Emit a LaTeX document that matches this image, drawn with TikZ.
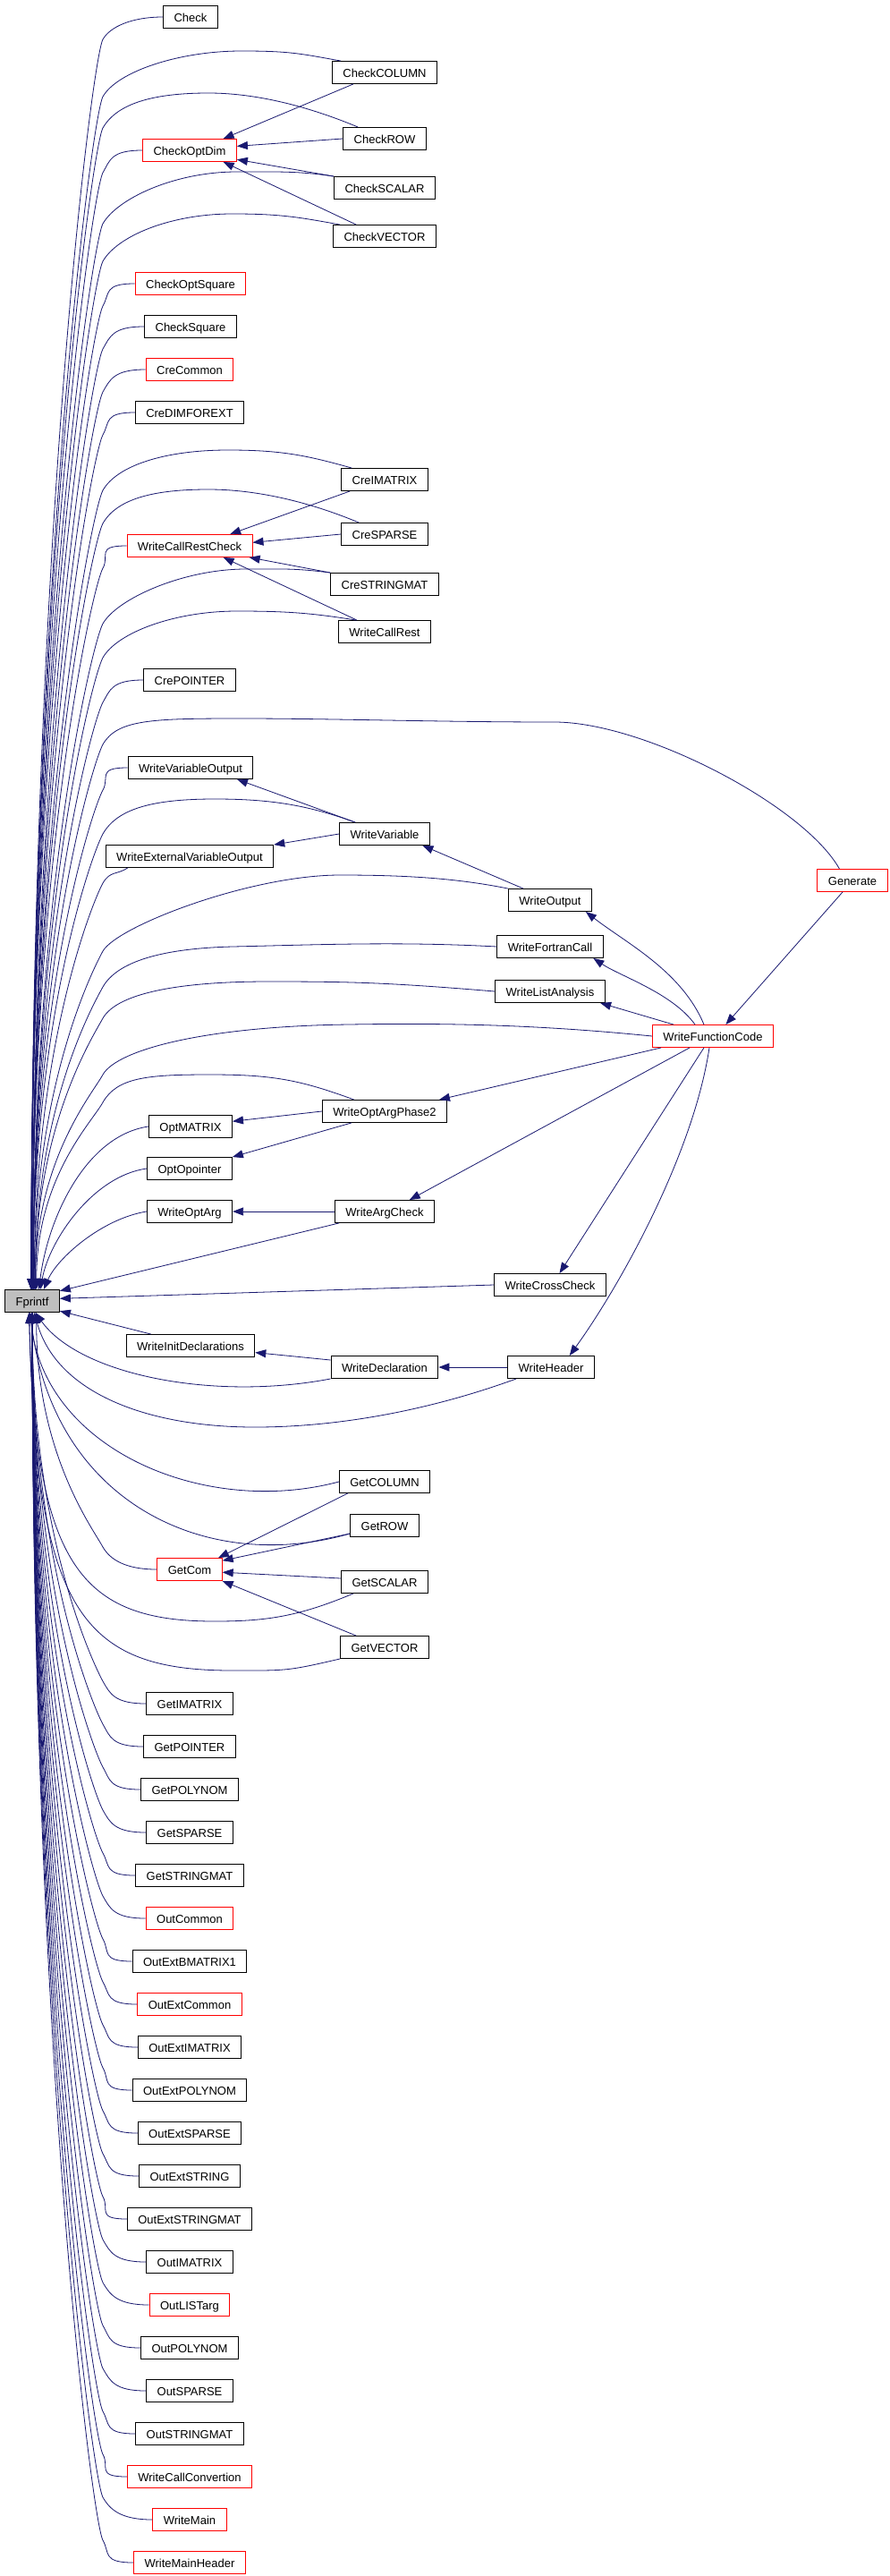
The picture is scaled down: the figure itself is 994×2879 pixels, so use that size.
\documentclass[tikz,border=0pt]{standalone}
\usepackage{fontspec}
\setmainfont{Liberation Sans}
\usetikzlibrary{arrows.meta}
\definecolor{edgeblue}{HTML}{191970}
\definecolor{boxred}{HTML}{FF0000}
\definecolor{boxgray}{HTML}{BFBFBF}
\begin{document}
\begin{tikzpicture}[x=1pt,y=-1pt,
  fn/.style={shape=rectangle,draw=black,line width=0.9pt,minimum height=25pt,inner xsep=12pt,inner ysep=0pt,text height=12pt,text depth=1pt,font=\fontsize{13}{15}\selectfont},
  fnred/.style={fn,draw=boxred},
  fnself/.style={fn,fill=boxgray},
  call/.style={draw=edgeblue,line width=0.8pt,-{Triangle[length=12pt,width=9pt]}}]
\useasboundingbox (0,0) rectangle (994,2879);
\fill[white] (0,0) rectangle (994,2879);
\draw (36,1454) node (fprintf) [fnself] {Fprintf};
\draw (213,19) node (check) [fn] {Check};
\draw (430,81) node (chkcolumn) [fn] {CheckCOLUMN};
\draw (430,155) node (chkrow) [fn] {CheckROW};
\draw (212,168) node (chkoptdim) [fnred] {CheckOptDim};
\draw (430,210) node (chkscalar) [fn] {CheckSCALAR};
\draw (430,264) node (chkvector) [fn] {CheckVECTOR};
\draw (213,317) node (chkoptsquare) [fnred] {CheckOptSquare};
\draw (213,365) node (chksquare) [fn] {CheckSquare};
\draw (212,413) node (crecommon) [fnred] {CreCommon};
\draw (212,461) node (credimforext) [fn] {CreDIMFOREXT};
\draw (430,536) node (creimatrix) [fn] {CreIMATRIX};
\draw (430,597) node (cresparse) [fn] {CreSPARSE};
\draw (212,610) node (wcallrestchk) [fnred] {WriteCallRestCheck};
\draw (430,653) node (crestringmat) [fn] {CreSTRINGMAT};
\draw (430,706) node (wcallrest) [fn] {WriteCallRest};
\draw (212,760) node (crepointer) [fn] {CrePOINTER};
\draw (213,858) node (wvaroutput) [fn] {WriteVariableOutput};
\draw (430,932) node (wvariable) [fn] {WriteVariable};
\draw (212,957) node (wextvaroutput) [fn] {WriteExternalVariableOutput};
\draw (953,984) node (generate) [fnred] {Generate};
\draw (615,1006) node (woutput) [fn] {WriteOutput};
\draw (615,1058) node (wfortrancall) [fn] {WriteFortranCall};
\draw (615,1108) node (wlistanalysis) [fn] {WriteListAnalysis};
\draw (797,1158) node (wfunctioncode) [fnred] {WriteFunctionCode};
\draw (430,1242) node (woptargphase2) [fn] {WriteOptArgPhase2};
\draw (213,1259) node (optmatrix) [fn] {OptMATRIX};
\draw (212,1306) node (optopointer) [fn] {OptOpointer};
\draw (212,1354) node (woptarg) [fn] {WriteOptArg};
\draw (430,1354) node (wargcheck) [fn] {WriteArgCheck};
\draw (615,1436) node (wcrosscheck) [fn] {WriteCrossCheck};
\draw (213,1504) node (winitdecl) [fn] {WriteInitDeclarations};
\draw (430,1528) node (wdeclaration) [fn] {WriteDeclaration};
\draw (616,1528) node (wheader) [fn] {WriteHeader};
\draw (430,1656) node (getcolumn) [fn] {GetCOLUMN};
\draw (430,1705) node (getrow) [fn] {GetROW};
\draw (212,1754) node (getcom) [fnred] {GetCom};
\draw (430,1768) node (getscalar) [fn] {GetSCALAR};
\draw (430,1841) node (getvector) [fn] {GetVECTOR};
\draw (212,1904) node (getimatrix) [fn] {GetIMATRIX};
\draw (212,1952) node (getpointer) [fn] {GetPOINTER};
\draw (212,2000) node (getpolynom) [fn] {GetPOLYNOM};
\draw (212,2048) node (getsparse) [fn] {GetSPARSE};
\draw (212,2096) node (getstringmat) [fn] {GetSTRINGMAT};
\draw (212,2144) node (outcommon) [fnred] {OutCommon};
\draw (212,2192) node (outextbmatrix1) [fn] {OutExtBMATRIX1};
\draw (212,2240) node (outextcommon) [fnred] {OutExtCommon};
\draw (212,2288) node (outextimatrix) [fn] {OutExtIMATRIX};
\draw (212,2336) node (outextpolynom) [fn] {OutExtPOLYNOM};
\draw (212,2384) node (outextsparse) [fn] {OutExtSPARSE};
\draw (212,2432) node (outextstring) [fn] {OutExtSTRING};
\draw (212,2480) node (outextstringmat) [fn] {OutExtSTRINGMAT};
\draw (212,2528) node (outimatrix) [fn] {OutIMATRIX};
\draw (212,2576) node (outlistarg) [fnred] {OutLISTarg};
\draw (212,2624) node (outpolynom) [fn] {OutPOLYNOM};
\draw (212,2672) node (outsparse) [fn] {OutSPARSE};
\draw (212,2720) node (outstringmat) [fn] {OutSTRINGMAT};
\draw (212,2768) node (wcallconvertion) [fnred] {WriteCallConvertion};
\draw (212,2816) node (wmain) [fnred] {WriteMain};
\draw (212,2864) node (wmainheader) [fnred] {WriteMainHeader};
\draw[call] (check.west) .. controls +(-35,0) and +(8,-14) .. (115,44) .. controls +(-12,22) and +(0,-838) .. (fprintf.95);
\draw[call] ([xshift=10pt]chkcolumn.north west) .. controls +(-45,-8) and +(55,0) .. (270,57) .. controls +(-70,0) and +(16,-28) .. (115,108) .. controls +(-12,22) and +(0,-800) .. (fprintf.95);
\draw[call] ([xshift=17pt]chkrow.north west) .. controls +(-60,-25) and +(50,0) .. (233,104) .. controls +(-60,0) and +(16,-28) .. (115,143) .. controls +(-12,22) and +(0,-779) .. (fprintf.95);
\draw[call] (chkoptdim.west) .. controls +(-35,0) and +(8,-14) .. (115,193) .. controls +(-12,22) and +(0,-749) .. (fprintf.95);
\draw[call] (chkscalar.north west) .. controls +(-40,-6) and +(45,0) .. (265,192) .. controls +(-70,0) and +(16,-28) .. (115,250) .. controls +(-12,22) and +(0,-715) .. (fprintf.95);
\draw[call] ([xshift=8pt]chkvector.north west) .. controls +(-45,-8) and +(55,0) .. (260,239) .. controls +(-70,0) and +(16,-28) .. (115,292) .. controls +(-12,22) and +(0,-689) .. (fprintf.95);
\draw[call] (chkoptsquare.west) .. controls +(-35,0) and +(8,-14) .. (115,342) .. controls +(-12,22) and +(0,-659) .. (fprintf.95);
\draw[call] (chksquare.west) .. controls +(-35,0) and +(8,-14) .. (115,390) .. controls +(-12,22) and +(0,-631) .. (fprintf.90);
\draw[call] (crecommon.west) .. controls +(-35,0) and +(8,-14) .. (115,438) .. controls +(-12,22) and +(0,-602) .. (fprintf.90);
\draw[call] (credimforext.west) .. controls +(-35,0) and +(8,-14) .. (115,486) .. controls +(-12,22) and +(0,-573) .. (fprintf.90);
\draw[call] ([xshift=12pt]creimatrix.north west) .. controls +(-50,-14) and +(60,0) .. (255,503) .. controls +(-70,0) and +(16,-28) .. (115,548) .. controls +(-12,22) and +(0,-536) .. (fprintf.90);
\draw[call] ([xshift=20pt]cresparse.north west) .. controls +(-60,-25) and +(50,0) .. (233,547) .. controls +(-60,0) and +(16,-28) .. (115,585) .. controls +(-12,22) and +(0,-514) .. (fprintf.90);
\draw[call] (wcallrestchk.west) .. controls +(-35,0) and +(8,-14) .. (115,635) .. controls +(-12,22) and +(0,-484) .. (fprintf.90);
\draw[call] (crestringmat.north west) .. controls +(-40,-5) and +(45,0) .. (275,636) .. controls +(-70,0) and +(16,-28) .. (115,697) .. controls +(-12,22) and +(0,-446) .. (fprintf.85);
\draw[call] ([xshift=20pt]wcallrest.north west) .. controls +(-50,-8) and +(55,0) .. (265,683) .. controls +(-70,0) and +(16,-28) .. (115,735) .. controls +(-12,22) and +(0,-424) .. (fprintf.85);
\draw[call] (crepointer.west) .. controls +(-35,0) and +(8,-14) .. (115,785) .. controls +(-12,22) and +(0,-394) .. (fprintf.85);
\draw[call] ([xshift=25pt]generate.north west) .. controls +(-40,-71) and +(100,0) .. (620,807) .. controls +(-130,0) and +(100,0) .. (270,803) .. controls +(-100,0) and +(16,-28) .. (115,832) .. controls +(-12,22) and +(0,-365) .. (fprintf.85);
\draw[call] (wvaroutput.west) .. controls +(-35,0) and +(8,-14) .. (115,883) .. controls +(-12,22) and +(0,-335) .. (fprintf.85);
\draw[call] ([xshift=18pt]wvariable.north west) .. controls +(-55,-20) and +(60,0) .. (240,893) .. controls +(-70,0) and +(16,-28) .. (115,932) .. controls +(-12,22) and +(0,-305) .. (fprintf.85);
\draw[call] ([xshift=25pt]wextvaroutput.south west) .. controls +(-12,8) and +(8,-14) .. (115,987) .. controls +(-12,22) and +(0,-272) .. (fprintf.80);
\draw[call] (woutput.north west) .. controls +(-60,-12) and +(70,0) .. (380,978) .. controls +(-100,0) and +(16,-28) .. (115,1063) .. controls +(-12,22) and +(0,-227) .. (fprintf.80);
\draw[call] (wfortrancall.west) .. controls +(-110,-6) and +(90,-2) .. (260,1058) .. controls +(-80,2) and +(16,-28) .. (115,1103) .. controls +(-12,22) and +(0,-203) .. (fprintf.75);
\draw[call] (wlistanalysis.west) .. controls +(-120,-10) and +(90,0) .. (300,1097) .. controls +(-100,0) and +(16,-28) .. (115,1138) .. controls +(-12,22) and +(0,-182) .. (fprintf.75);
\draw[call] (wfunctioncode.west) .. controls +(-120,-12) and +(120,-2) .. (390,1145) .. controls +(-160,2) and +(16,-28) .. (115,1201) .. controls +(-12,22) and +(0,-144) .. (fprintf.75);
\draw[call] ([xshift=36pt]woptargphase2.north west) .. controls +(-60,-22) and +(70,0) .. (235,1201) .. controls +(-70,0) and +(16,-28) .. (115,1232) .. controls +(-12,22) and +(0,-125) .. (fprintf.70);
\draw[call] (optmatrix.west) .. controls +(-70,10) and +(10,-80) .. (fprintf.60);
\draw[call] (optopointer.west) .. controls +(-60,8) and +(10,-55) .. (fprintf.55);
\draw[call] (woptarg.west) .. controls +(-50,8) and +(15,-35) .. (fprintf.45);
\draw[call] ([xshift=5pt]wargcheck.south west) -- (fprintf.20);
\draw[call] (wcrosscheck.west) -- (fprintf.5);
\draw[call] ([xshift=28pt]winitdecl.north west) -- (fprintf.-20);
\draw[call] (wdeclaration.south west) .. controls +(-130,25) and +(50,70) .. (fprintf.-75);
\draw[call] ([xshift=10pt]wheader.south west) .. controls +(-110,40) and +(80,0) .. (285,1595) .. controls +(-120,0) and +(25,90) .. (fprintf.-80);
\draw[call] (getcolumn.west) .. controls +(-150,40) and +(15,153) .. (fprintf.-100);
\draw[call] ([yshift=-9pt]getrow.west) .. controls +(-160,46) and +(25,213) .. (fprintf.-100);
\draw[call] (getcom.west) .. controls +(-35,0) and +(8,14) .. (115,1729) .. controls +(-12,-22) and +(0,157) .. (fprintf.-70);
\draw[call] ([xshift=14pt]getscalar.south west) .. controls +(-60,25) and +(60,0) .. (240,1812) .. controls +(-150,0) and +(7,283) .. (fprintf.-105);
\draw[call] (getvector.south west) .. controls +(-60,14) and +(60,0) .. (260,1867) .. controls +(-170,0) and +(8,333) .. (fprintf.-105);
\draw[call] (getimatrix.west) .. controls +(-35,0) and +(8,14) .. (115,1879) .. controls +(-12,-22) and +(0,247) .. (fprintf.-90);
\draw[call] (getpointer.west) .. controls +(-35,0) and +(8,14) .. (115,1927) .. controls +(-12,-22) and +(0,276) .. (fprintf.-90);
\draw[call] (getpolynom.west) .. controls +(-35,0) and +(8,14) .. (115,1975) .. controls +(-12,-22) and +(0,305) .. (fprintf.-90);
\draw[call] (getsparse.west) .. controls +(-35,0) and +(8,14) .. (115,2023) .. controls +(-12,-22) and +(0,334) .. (fprintf.-90);
\draw[call] (getstringmat.west) .. controls +(-35,0) and +(8,14) .. (115,2071) .. controls +(-12,-22) and +(0,362) .. (fprintf.-90);
\draw[call] (outcommon.west) .. controls +(-35,0) and +(8,14) .. (115,2119) .. controls +(-12,-22) and +(0,391) .. (fprintf.-90);
\draw[call] (outextbmatrix1.west) .. controls +(-35,0) and +(8,14) .. (115,2167) .. controls +(-12,-22) and +(0,420) .. (fprintf.-90);
\draw[call] (outextcommon.west) .. controls +(-35,0) and +(8,14) .. (115,2215) .. controls +(-12,-22) and +(0,449) .. (fprintf.-90);
\draw[call] (outextimatrix.west) .. controls +(-35,0) and +(8,14) .. (115,2263) .. controls +(-12,-22) and +(0,478) .. (fprintf.-90);
\draw[call] (outextpolynom.west) .. controls +(-35,0) and +(8,14) .. (115,2311) .. controls +(-12,-22) and +(0,506) .. (fprintf.-90);
\draw[call] (outextsparse.west) .. controls +(-35,0) and +(8,14) .. (115,2359) .. controls +(-12,-22) and +(0,535) .. (fprintf.-90);
\draw[call] (outextstring.west) .. controls +(-35,0) and +(8,14) .. (115,2407) .. controls +(-12,-22) and +(0,564) .. (fprintf.-90);
\draw[call] (outextstringmat.west) .. controls +(-35,0) and +(8,14) .. (115,2455) .. controls +(-12,-22) and +(0,593) .. (fprintf.-90);
\draw[call] (outimatrix.west) .. controls +(-35,0) and +(8,14) .. (115,2503) .. controls +(-12,-22) and +(0,622) .. (fprintf.-90);
\draw[call] (outlistarg.west) .. controls +(-35,0) and +(8,14) .. (115,2551) .. controls +(-12,-22) and +(0,650) .. (fprintf.-90);
\draw[call] (outpolynom.west) .. controls +(-35,0) and +(8,14) .. (115,2599) .. controls +(-12,-22) and +(0,679) .. (fprintf.-90);
\draw[call] (outsparse.west) .. controls +(-35,0) and +(8,14) .. (115,2647) .. controls +(-12,-22) and +(0,708) .. (fprintf.-90);
\draw[call] (outstringmat.west) .. controls +(-35,0) and +(8,14) .. (115,2695) .. controls +(-12,-22) and +(0,737) .. (fprintf.-90);
\draw[call] (wcallconvertion.west) .. controls +(-35,0) and +(8,14) .. (115,2743) .. controls +(-12,-22) and +(0,766) .. (fprintf.-90);
\draw[call] (wmain.west) .. controls +(-35,0) and +(8,14) .. (115,2791) .. controls +(-12,-22) and +(0,794) .. (fprintf.-90);
\draw[call] (wmainheader.west) .. controls +(-35,0) and +(8,14) .. (115,2839) .. controls +(-12,-22) and +(0,823) .. (fprintf.-90);
\draw[call] ([xshift=24pt]chkcolumn.south west) -- (chkoptdim.19);
\draw[call] (chkrow.west) -- (chkoptdim.5);
\draw[call] (chkscalar.north west) -- (chkoptdim.-11);
\draw[call] ([xshift=26pt]chkvector.north west) -- (chkoptdim.-19);
\draw[call] ([xshift=10pt]creimatrix.south west) -- (wcallrestchk.16);
\draw[call] (cresparse.west) -- (wcallrestchk.3);
\draw[call] (crestringmat.north west) -- (wcallrestchk.-11);
\draw[call] ([xshift=21pt]wcallrest.north west) -- (wcallrestchk.-19);
\draw[call] ([xshift=18pt]wvariable.north west) -- (wvaroutput.-14);
\draw[call] (wvariable.west) -- (wextvaroutput.north east);
\draw[call] ([xshift=17pt]woutput.north west) -- (wvariable.-17);
\draw[call] ([xshift=-11pt]generate.south) -- (wfunctioncode.42);
\draw[call] ([xshift=-10pt]wfunctioncode.north) .. controls +(-25,-60) and +(45,35) .. (woutput.-18);
\draw[call] ([xshift=-20pt]wfunctioncode.north) .. controls +(-25,-35) and +(30,20) .. (wfortrancall.-15);
\draw[call] ([xshift=-44pt]wfunctioncode.north) -- (wlistanalysis.-13);
\draw[call] ([xshift=10pt]wfunctioncode.south west) -- (woptargphase2.12);
\draw[call] ([xshift=-26pt]wfunctioncode.south) -- (wargcheck.25);
\draw[call] ([xshift=-10pt]wfunctioncode.south) -- (wcrosscheck.51);
\draw[call] ([xshift=-4pt]wfunctioncode.south) .. controls +(-18,120) and +(55,-76) .. (wheader.32);
\draw[call] (woptargphase2.west) -- (optmatrix.7);
\draw[call] ([xshift=33pt]woptargphase2.south west) -- (optopointer.north east);
\draw[call] (wargcheck.west) -- (woptarg.east);
\draw[call] (wheader.west) -- (wdeclaration.east);
\draw[call] ([yshift=8pt]wdeclaration.west) -- (winitdecl.-6);
\draw[call] ([xshift=10pt]getcolumn.south west) -- (getcom.22);
\draw[call] ([yshift=-9pt]getrow.west) -- (getcom.15);
\draw[call] ([yshift=4pt]getscalar.west) -- (getcom.-5);
\draw[call] ([xshift=18pt]getvector.north west) -- (getcom.south east);
\end{tikzpicture}
\end{document}
